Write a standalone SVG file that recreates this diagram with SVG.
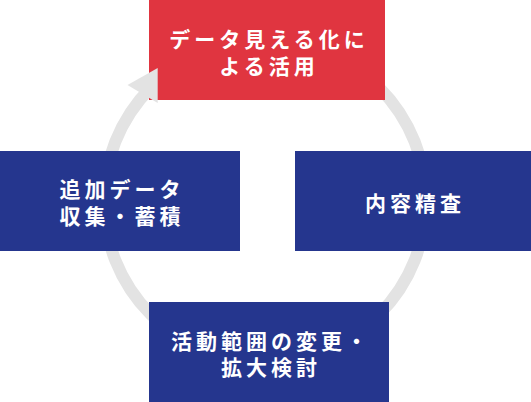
<svg xmlns="http://www.w3.org/2000/svg" width="531" height="402" viewBox="0 0 531 402">
  <style>
    .box-blue { fill: #25368e; }
    .box-red { fill: #e03540; }
    .lbl { font-family: "Noto Sans CJK JP", "Noto Sans", sans-serif; font-weight: bold; font-size: 21px; letter-spacing: 4px; fill: #ffffff; text-anchor: middle; }
    .ring { fill: none; stroke: #e3e3e3; stroke-width: 12; }
    .arrowhead { fill: #e3e3e3; }
  </style>
  <rect width="531" height="402" fill="#ffffff"/>
  <g id="connectors">
    <circle class="ring" cx="265" cy="201" r="161"/>
  </g>
  <g id="node-top">
    <rect class="box-red" x="149" y="0" width="236" height="100"/>
    <text class="lbl"><tspan x="269" y="47">データ見える化に</tspan><tspan x="269" y="74">よる活用</tspan></text>
  </g>
  <g id="connector-arrowhead">
    <polygon class="arrowhead" points="157.7,68 127.5,85 157.7,103"/>
  </g>
  <g id="node-right">
    <rect class="box-blue" x="295" y="151" width="236" height="100"/>
    <text class="lbl" x="415" y="211">内容精査</text>
  </g>
  <g id="node-left">
    <rect class="box-blue" x="0" y="151" width="240" height="100"/>
    <text class="lbl"><tspan x="122" y="197">追加データ</tspan><tspan x="122" y="224">収集・蓄積</tspan></text>
  </g>
  <g id="node-bottom">
    <rect class="box-blue" x="149" y="302" width="240" height="100"/>
    <text class="lbl"><tspan x="271" y="349">活動範囲の変更・</tspan><tspan x="271" y="375">拡大検討</tspan></text>
  </g>
</svg>
